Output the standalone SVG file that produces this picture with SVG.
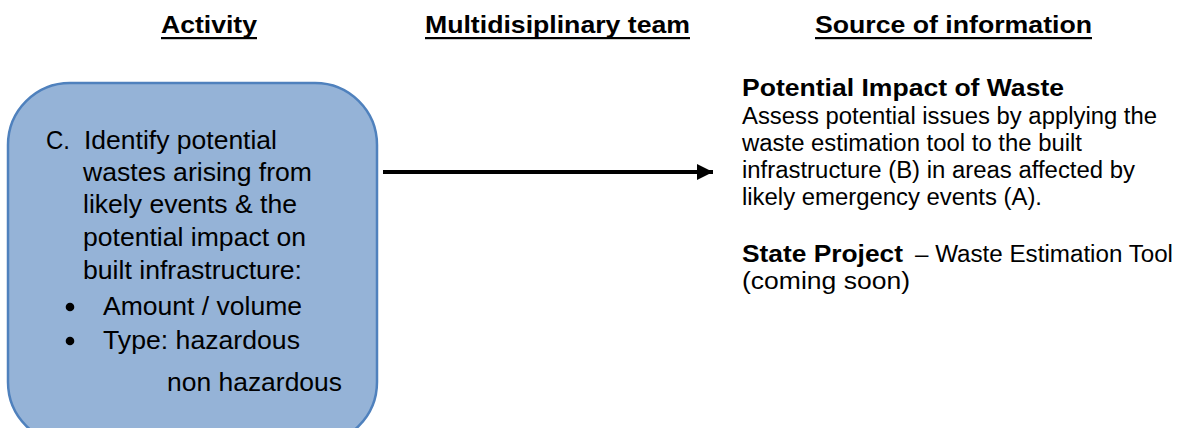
<svg xmlns="http://www.w3.org/2000/svg" width="1180" height="428" viewBox="0 0 1180 428">
  <style>
    .hdr { font-family: "Liberation Sans", Arial, sans-serif; font-size: 24px; font-weight: bold; fill: #000; }
    .box-txt { font-family: "Liberation Sans", Arial, sans-serif; font-size: 26px; fill: #000; }
    .src { font-family: "Liberation Sans", Arial, sans-serif; font-size: 23.5px; fill: #000; }
    .b { font-weight: bold; }
  </style>
  <defs>
    <marker id="arrowhead" markerUnits="userSpaceOnUse" markerWidth="18" markerHeight="16" refX="16" refY="8" orient="auto">
      <polygon points="0,0 16,8 0,16" fill="#000"/>
    </marker>
  </defs>
  <rect width="1180" height="428" fill="#fff"/>

  <!-- column headings -->
  <g id="headings">
    <text class="hdr" x="161" y="33" textLength="96" lengthAdjust="spacingAndGlyphs">Activity</text>
    <rect x="161" y="37" width="96" height="2.2" fill="#000"/>
    <text class="hdr" x="425" y="33" textLength="265" lengthAdjust="spacingAndGlyphs">Multidisiplinary team</text>
    <rect x="425" y="37" width="265" height="2.2" fill="#000"/>
    <text class="hdr" x="815" y="33" textLength="277" lengthAdjust="spacingAndGlyphs">Source of information</text>
    <rect x="815" y="37" width="277" height="2.2" fill="#000"/>
  </g>

  <!-- activity C -->
  <g id="activity-c">
    <rect x="8" y="83" width="369" height="361" rx="62" ry="62" fill="#95B3D7" stroke="#4F81BD" stroke-width="2.5"/>
    <text class="box-txt" x="46" y="149" textLength="24" lengthAdjust="spacingAndGlyphs">C.</text>
    <text class="box-txt" x="84" y="149" textLength="193" lengthAdjust="spacingAndGlyphs">Identify potential</text>
    <text class="box-txt" x="83" y="181" textLength="229" lengthAdjust="spacingAndGlyphs">wastes arising from</text>
    <text class="box-txt" x="83" y="213" textLength="214" lengthAdjust="spacingAndGlyphs">likely events &amp; the</text>
    <text class="box-txt" x="83" y="246" textLength="223" lengthAdjust="spacingAndGlyphs">potential impact on</text>
    <text class="box-txt" x="83" y="279" textLength="219" lengthAdjust="spacingAndGlyphs">built infrastructure:</text>
    <circle cx="70" cy="307" r="4.3" fill="#000"/>
    <text class="box-txt" x="103" y="315" textLength="199" lengthAdjust="spacingAndGlyphs">Amount / volume</text>
    <circle cx="70" cy="341" r="4.3" fill="#000"/>
    <text class="box-txt" x="103" y="349" textLength="197" lengthAdjust="spacingAndGlyphs">Type: hazardous</text>
    <text class="box-txt" x="167" y="391" textLength="175" lengthAdjust="spacingAndGlyphs">non hazardous</text>
  </g>

  <!-- source of information -->
  <g id="source-info">
    <text class="src b" x="742" y="96" textLength="322" lengthAdjust="spacingAndGlyphs">Potential Impact of Waste</text>
    <text class="src" x="742" y="124" textLength="415" lengthAdjust="spacingAndGlyphs">Assess potential issues by applying the</text>
    <text class="src" x="742" y="151" textLength="340" lengthAdjust="spacingAndGlyphs">waste estimation tool to the built</text>
    <text class="src" x="742" y="178" textLength="393" lengthAdjust="spacingAndGlyphs">infrastructure (B) in areas affected by</text>
    <text class="src" x="742" y="205" textLength="300" lengthAdjust="spacingAndGlyphs">likely emergency events (A).</text>
    <text class="src b" x="742" y="262" textLength="161" lengthAdjust="spacingAndGlyphs">State Project</text>
    <text class="src" x="915" y="262" textLength="258" lengthAdjust="spacingAndGlyphs">– Waste Estimation Tool</text>
    <text class="src" x="742" y="289" textLength="168" lengthAdjust="spacingAndGlyphs">(coming soon)</text>
  </g>

  <!-- connectors -->
  <g id="connectors">
    <line x1="383" y1="172" x2="713" y2="172" stroke="#000" stroke-width="4" marker-end="url(#arrowhead)"/>
  </g>
</svg>
